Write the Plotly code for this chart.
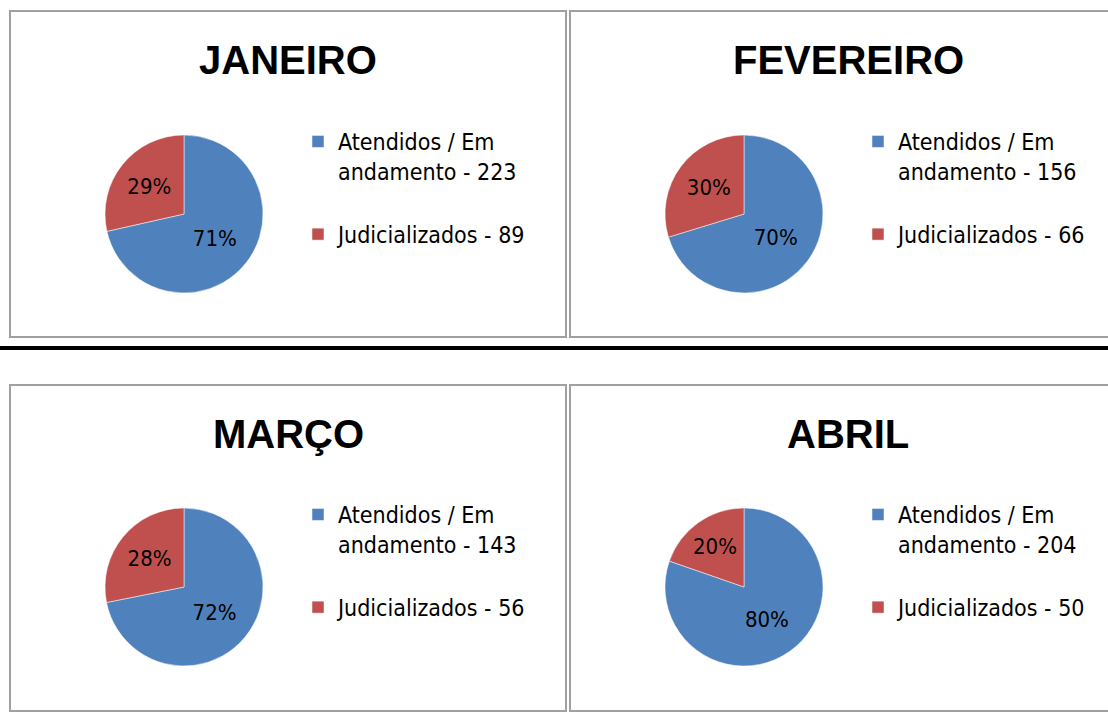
import plotly.graph_objects as go

W, H = 1108, 715

months = ["JANEIRO", "FEVEREIRO", "MARÇO", "ABRIL"]
atendidos = [223, 156, 143, 204]
judicializados = [89, 66, 56, 50]
label_atendidos = "Atendidos / Em<br>andamento"
label_judicializados = "Judicializados"
colors = ["#4F81BD", "#C0504D"]

NARROW = "Liberation Sans Narrow, Arial Narrow, DejaVu Sans Condensed, sans-serif"

# panel geometry in pixels: (left, top, right, bottom)
panels = [(10, 11, 566, 337), (570, 11, 1130, 337), (10, 385, 566, 711), (570, 385, 1130, 711)]
title_x = [288, 848, 288, 848]
pie_centers = [(184, 214), (744, 214), (184, 587), (744, 587)]
R = 79

def px(x):
    return x / W

def py(y):
    return 1 - y / H

fig = go.Figure()
shapes = []
annotations = []
legends = {}
for i, m in enumerate(months):
    cx, cy = pie_centers[i]
    lname = "legend" if i == 0 else f"legend{i+1}"
    fig.add_trace(go.Pie(
        labels=[f"{label_atendidos} - {atendidos[i]}<br> ", f"{label_judicializados} - {judicializados[i]}"],
        values=[atendidos[i], judicializados[i]],
        sort=False, direction="clockwise", rotation=0,
        marker=dict(colors=colors, line=dict(color="white", width=0.5)),
        texttemplate="%{percent:.0%}", textposition="inside",
        insidetextfont=dict(color="black", size=22, family=NARROW),
        domain=dict(x=[px(cx - R), px(cx + R)], y=[py(cy + R), py(cy - R)]),
        legend=lname, hoverinfo="label+value+percent",
    ))
    l, t, r, b = panels[i]
    shapes.append(dict(type="rect", xref="paper", yref="paper",
                       x0=px(l), x1=px(r), y0=py(b), y1=py(t),
                       line=dict(color="#A0A0A0", width=2)))
    annotations.append(dict(text=f"<b>{m}</b>", xref="paper", yref="paper",
                            x=px(title_x[i]), y=py(t + 49),
                            xanchor="center", yanchor="middle", showarrow=False,
                            font=dict(size=40, color="black", family="Liberation Sans, Arial, sans-serif")))
    legends[lname] = dict(x=px(cx + 114), y=py(cy - 94), xanchor="left", yanchor="top",
                          bgcolor="rgba(0,0,0,0)", valign="top",
                          font=dict(size=23, color="black", family=NARROW),
                          traceorder="normal", itemclick=False, itemdoubleclick=False)

shapes.append(dict(type="line", xref="paper", yref="paper", x0=0, x1=1,
                   y0=py(348), y1=py(348), line=dict(color="black", width=4)))

fig.update_layout(width=W, height=H, margin=dict(l=0, r=0, t=0, b=0),
                  paper_bgcolor="white", plot_bgcolor="white",
                  shapes=shapes, annotations=annotations, **legends)
fig.write_html("out.html", config={"displayModeBar": False},
               post_script="document.body.style.margin='0';document.body.style.padding='0';")
